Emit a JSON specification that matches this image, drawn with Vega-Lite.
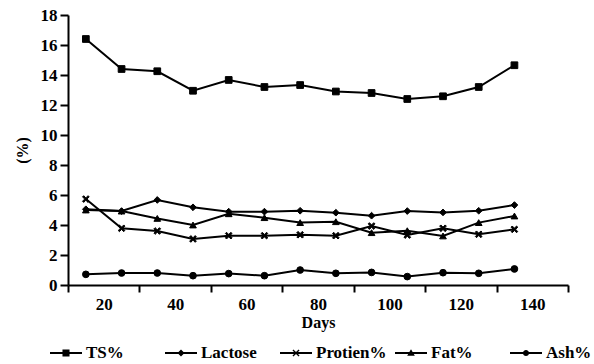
{
  "$schema": "https://vega.github.io/schema/vega-lite/v6.json",
  "autosize": "none",
  "width": 500,
  "height": 270,
  "padding": {"left": 68, "top": 15, "right": 26, "bottom": 79},
  "background": "white",
  "data": {"values": [
    {"Days": 15, "Series": "TS%", "Value": 16.4},
    {"Days": 25, "Series": "TS%", "Value": 14.4},
    {"Days": 35, "Series": "TS%", "Value": 14.25},
    {"Days": 45, "Series": "TS%", "Value": 12.95},
    {"Days": 55, "Series": "TS%", "Value": 13.67},
    {"Days": 65, "Series": "TS%", "Value": 13.2},
    {"Days": 75, "Series": "TS%", "Value": 13.33},
    {"Days": 85, "Series": "TS%", "Value": 12.9},
    {"Days": 95, "Series": "TS%", "Value": 12.8},
    {"Days": 105, "Series": "TS%", "Value": 12.4},
    {"Days": 115, "Series": "TS%", "Value": 12.58},
    {"Days": 125, "Series": "TS%", "Value": 13.2},
    {"Days": 135, "Series": "TS%", "Value": 14.65},
    {"Days": 15, "Series": "Lactose", "Value": 5.05},
    {"Days": 25, "Series": "Lactose", "Value": 4.93},
    {"Days": 35, "Series": "Lactose", "Value": 5.67},
    {"Days": 45, "Series": "Lactose", "Value": 5.18},
    {"Days": 55, "Series": "Lactose", "Value": 4.89},
    {"Days": 65, "Series": "Lactose", "Value": 4.89},
    {"Days": 75, "Series": "Lactose", "Value": 4.95},
    {"Days": 85, "Series": "Lactose", "Value": 4.82},
    {"Days": 95, "Series": "Lactose", "Value": 4.62},
    {"Days": 105, "Series": "Lactose", "Value": 4.93},
    {"Days": 115, "Series": "Lactose", "Value": 4.84},
    {"Days": 125, "Series": "Lactose", "Value": 4.95},
    {"Days": 135, "Series": "Lactose", "Value": 5.33},
    {"Days": 15, "Series": "Protien%", "Value": 5.73},
    {"Days": 25, "Series": "Protien%", "Value": 3.78},
    {"Days": 35, "Series": "Protien%", "Value": 3.6},
    {"Days": 45, "Series": "Protien%", "Value": 3.07},
    {"Days": 55, "Series": "Protien%", "Value": 3.29},
    {"Days": 65, "Series": "Protien%", "Value": 3.29},
    {"Days": 75, "Series": "Protien%", "Value": 3.35},
    {"Days": 85, "Series": "Protien%", "Value": 3.29},
    {"Days": 95, "Series": "Protien%", "Value": 3.93},
    {"Days": 105, "Series": "Protien%", "Value": 3.33},
    {"Days": 115, "Series": "Protien%", "Value": 3.78},
    {"Days": 125, "Series": "Protien%", "Value": 3.38},
    {"Days": 135, "Series": "Protien%", "Value": 3.71},
    {"Days": 15, "Series": "Fat%", "Value": 5.0},
    {"Days": 25, "Series": "Fat%", "Value": 4.93},
    {"Days": 35, "Series": "Fat%", "Value": 4.44},
    {"Days": 45, "Series": "Fat%", "Value": 4.0},
    {"Days": 55, "Series": "Fat%", "Value": 4.75},
    {"Days": 65, "Series": "Fat%", "Value": 4.49},
    {"Days": 75, "Series": "Fat%", "Value": 4.16},
    {"Days": 85, "Series": "Fat%", "Value": 4.22},
    {"Days": 95, "Series": "Fat%", "Value": 3.49},
    {"Days": 105, "Series": "Fat%", "Value": 3.62},
    {"Days": 115, "Series": "Fat%", "Value": 3.27},
    {"Days": 125, "Series": "Fat%", "Value": 4.16},
    {"Days": 135, "Series": "Fat%", "Value": 4.6},
    {"Days": 15, "Series": "Ash%", "Value": 0.71},
    {"Days": 25, "Series": "Ash%", "Value": 0.8},
    {"Days": 35, "Series": "Ash%", "Value": 0.8},
    {"Days": 45, "Series": "Ash%", "Value": 0.62},
    {"Days": 55, "Series": "Ash%", "Value": 0.76},
    {"Days": 65, "Series": "Ash%", "Value": 0.62},
    {"Days": 75, "Series": "Ash%", "Value": 1.0},
    {"Days": 85, "Series": "Ash%", "Value": 0.78},
    {"Days": 95, "Series": "Ash%", "Value": 0.84},
    {"Days": 105, "Series": "Ash%", "Value": 0.56},
    {"Days": 115, "Series": "Ash%", "Value": 0.82},
    {"Days": 125, "Series": "Ash%", "Value": 0.78},
    {"Days": 135, "Series": "Ash%", "Value": 1.07}
  ]},
  "encoding": {
    "x": {
      "field": "Days", "type": "quantitative",
      "scale": {"domain": [10, 150], "nice": false, "zero": false},
      "axis": {
        "title": "Days",
        "values": [10, 20, 30, 40, 50, 60, 70, 80, 90, 100, 110, 120, 130, 140, 150],
        "labelExpr": "datum.value % 20 === 0 ? datum.label : ''",
        "tickOpacity": {"condition": {"test": "datum.value % 20 === 0", "value": 0}, "value": 1},
        "tickSize": 7,
        "labelPadding": 4,
        "titlePadding": 2
      }
    },
    "y": {
      "field": "Value", "type": "quantitative",
      "scale": {"domain": [0, 18], "nice": false},
      "axis": {
        "title": "(%)",
        "values": [0, 2, 4, 6, 8, 10, 12, 14, 16, 18],
        "tickSize": 8,
        "labelPadding": 3,
        "titlePadding": 10
      }
    }
  },
  "layer": [
    {
      "mark": {"type": "line", "color": "black", "strokeWidth": 2},
      "encoding": {"detail": {"field": "Series"}}
    },
    {
      "mark": {"type": "point", "filled": true, "fill": "black", "stroke": "black", "strokeWidth": 1, "opacity": 1, "size": 45},
      "encoding": {
        "shape": {
          "field": "Series", "type": "nominal",
          "scale": {
            "domain": ["TS%", "Lactose", "Protien%", "Fat%", "Ash%"],
            "range": [
              "square",
              "diamond",
              "M-1,-0.65L-0.65,-1L0,-0.35L0.65,-1L1,-0.65L0.35,0L1,0.65L0.65,1L0,0.35L-0.65,1L-1,0.65L-0.35,0Z",
              "triangle-up",
              "circle"
            ]
          },
          "legend": null
        }
      }
    },
    {
      "mark": {"type": "point", "filled": true, "fill": "black", "opacity": 0},
      "encoding": {
        "shape": {
          "field": "Series", "type": "nominal",
          "scale": {
            "domain": ["TS%", "Lactose", "Protien%", "Fat%", "Ash%"],
            "range": [
              "M-1,-0.065H1V0.065H-1ZM-0.22,-0.22H0.22V0.22H-0.22Z",
              "M-1,-0.065H1V0.065H-1ZM0,-0.22L0.22,0L0,0.22L-0.22,0Z",
              "M-1,-0.065H1V0.065H-1ZM-0.22,-0.16L-0.16,-0.22L0,-0.06L0.16,-0.22L0.22,-0.16L0.06,0L0.22,0.16L0.16,0.22L0,0.06L-0.16,0.22L-0.22,0.16L-0.06,0Z",
              "M-1,-0.065H1V0.065H-1ZM0,-0.24L0.24,0.17L-0.24,0.17Z",
              "M-1,-0.065H1V0.065H-1ZM0.19,0A0.19,0.19 0 1 1 -0.19,0A0.19,0.19 0 1 1 0.19,0Z"
            ]
          },
          "legend": {
            "orient": "none",
            "legendX": -18,
            "legendY": 322,
            "direction": "horizontal",
            "columns": 5,
            "gridAlign": "all",
            "columnPadding": 8,
            "title": null,
            "symbolSize": 1024,
            "symbolOpacity": 1,
            "symbolFillColor": "black",
            "symbolStrokeWidth": 0,
            "labelOffset": 4
          }
        }
      }
    }
  ],
  "resolve": {"scale": {"shape": "independent"}},
  "config": {
    "view": {"stroke": null},
    "font": "'Liberation Serif', serif",
    "axis": {
      "grid": false,
      "domainColor": "black",
      "domainWidth": 2,
      "tickColor": "black",
      "tickWidth": 2,
      "labelFont": "'Liberation Serif', serif",
      "labelFontWeight": "bold",
      "labelFontSize": 17,
      "labelColor": "black",
      "titleFont": "'Liberation Serif', serif",
      "titleFontWeight": "bold",
      "titleFontSize": 16,
      "titleColor": "black"
    },
    "legend": {
      "labelFont": "'Liberation Serif', serif",
      "labelFontWeight": "bold",
      "labelFontSize": 17,
      "labelColor": "black"
    }
  }
}
